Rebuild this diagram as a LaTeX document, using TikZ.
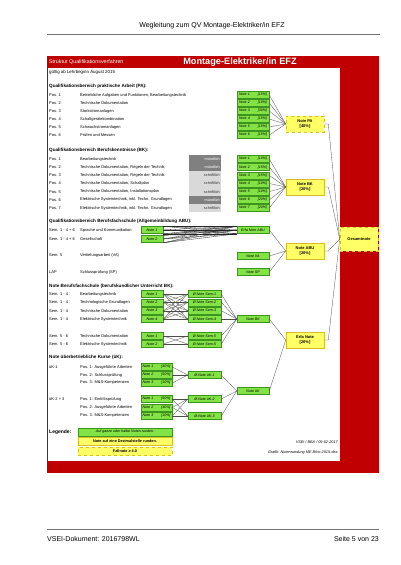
\documentclass[tikz,border=0pt]{standalone}
\usepackage{fontspec}
\setmainfont{Liberation Sans}
\usetikzlibrary{positioning}
\definecolor{vseired}{RGB}{192,0,0}
\definecolor{notegreen}{RGB}{130,226,70}
\definecolor{notegreenline}{RGB}{60,150,30}
\definecolor{sumyellow}{RGB}{255,255,102}
\definecolor{sumyellowline}{RGB}{218,190,40}
\definecolor{darkbox}{RGB}{128,128,128}
\definecolor{lightbox}{RGB}{217,217,217}

\begin{document}
\begin{tikzpicture}[x=1pt,y=-1pt,
  txt/.style={anchor=west,inner sep=0pt,font=\fontsize{4}{5}\selectfont},
  head/.style={anchor=west,inner sep=0pt,font=\fontsize{4.6}{5.5}\selectfont\bfseries},
  note/.style={rectangle,draw=notegreenline,fill=notegreen,line width=0.6pt,
               minimum width=32pt,minimum height=7pt,inner sep=0pt,
               font=\fontsize{3.6}{4}\selectfont\itshape},
  pnote/.style={note,text width=28pt},
  sum/.style={rectangle,draw=sumyellowline,fill=sumyellow,line width=0.6pt,
              minimum width=38pt,minimum height=16pt,inner sep=0pt,align=center,
              font=\fontsize{4}{5}\selectfont\bfseries},
  mode/.style={rectangle,anchor=east,minimum height=8.2pt,text width=30pt,
               inner sep=1pt,align=right,font=\fontsize{3.8}{4}\selectfont},
  link/.style={draw=black!70,line width=0.3pt}
]
\useasboundingbox (0,0) rectangle (400,565);

% page head and foot
\node[font=\fontsize{7}{8}\selectfont] (hdr) at (212,26) {Wegleitung zum QV Montage-Elektriker/in EFZ};
\draw[black!55,line width=0.6pt] (47,34) -- (380,34);
\draw[black!55,line width=0.6pt] (47,529) -- (379,529);
\node[anchor=west,inner sep=0pt,font=\fontsize{7}{8}\selectfont] (doc) at (47,539) {VSEI-Dokument: 2016798WL};
\node[anchor=east,inner sep=0pt,font=\fontsize{7}{8}\selectfont] (page) at (379,539) {Seite 5 von 23};

% red frame
\fill[vseired] (47,56) rectangle (379,473);
\fill[white] (47.6,68) rectangle (340,461);
\node[anchor=west,inner sep=0pt,text=white,font=\fontsize{5.3}{6}\selectfont] (struct) at (49,62) {Struktur Qualifikationsverfahren};
\node[inner sep=0pt,text=white,font=\fontsize{9.2}{10}\selectfont\bfseries] (title) at (240,62) {Montage-Elektriker/in EFZ};
\node[anchor=west,inner sep=0pt,font=\fontsize{4.4}{5}\selectfont] (valid) at (49,72) {gültig ab Lehrbeginn August 2015};

% praktische Arbeit
\node[head] (hpa) at (49,86) {Qualifikationsbereich praktische Arbeit (PA):};
\node[sum,dashed] (notepa) at (305,124) {Note PA\\{[40\%]}};
\foreach \i/\d/\p in {1/{Betriebliche Aufgaben und Funktionen, Bearbeitungstechnik}/15,
    2/Technische Dokumentation/10, 3/Starkstromanlagen/30,
    4/Schaltgerätekombination/15, 5/Schwachstromanlagen/15, 6/Prüfen und Messen/15}{
  \pgfmathsetmacro\y{95+8*(\i-1)}
  \node[txt] (pap\i) at (49,\y) {Pos. \i};
  \node[txt] (pad\i) at (80,\y) {\d};
  \node[pnote] (pa\i) at (253,\y) {Note \i\hfill[\p\%]};
  \draw[link] (pa\i.east) -- (notepa.west);
}

% Berufskenntnisse
\node[head] (hbk) at (49,150) {Qualifikationsbereich Berufskenntnisse (BK):};
\node[sum] (notebk) at (305,187) {Note BK\\{[20\%]}};
\foreach \i/\d/\c/\t/\w/\p in {1/Bearbeitungstechnik/darkbox/white/mündlich/10,
    2/{Technische Dokumentation, Regeln der Technik}/darkbox/white/mündlich/15,
    3/{Technische Dokumentation, Regeln der Technik}/lightbox/black!80/schriftlich/15,
    4/{Technische Dokumentation, Schaltplan}/lightbox/black!80/schriftlich/10,
    5/{Technische Dokumentation, Installationsplan}/lightbox/black!80/schriftlich/10,
    6/{Elektrische Systemtechnik, inkl. Techn. Grundlagen}/darkbox/white/mündlich/20,
    7/{Elektrische Systemtechnik, inkl. Techn. Grundlagen}/lightbox/black!80/schriftlich/20}{
  \pgfmathsetmacro\y{159+8.17*(\i-1)}
  \node[txt] (bkp\i) at (49,\y) {Pos. \i};
  \node[txt] (bkd\i) at (80,\y) {\d};
  \node[mode,fill=\c,text=\t] (bkm\i) at (221,\y) {\w};
  \node[pnote] (bk\i) at (253,\y) {Note \i\hfill[\p\%]};
  \draw[link] (bk\i.east) -- (notebk.west);
}

% Allgemeinbildung ABU
\node[head] (habu) at (49,221) {Qualifikationsbereich Berufsfachschule (Allgemeinbildung ABU):};
\node[txt] (abus1) at (49,230) {Sem. 1 - 4 + 6};
\node[txt] (abud1) at (80,230) {Sprache und Kommunikation};
\node[txt] (abus2) at (49,239) {Sem. 1 - 4 + 6};
\node[txt] (abud2) at (80,239) {Gesellschaft};
\node[txt] (vas) at (49,255) {Sem. 5};
\node[txt] (vad) at (80,255) {Vertiefungsarbeit (VA)};
\node[txt] (sps) at (49,272) {LAP};
\node[txt] (spd) at (80,272) {Schlussprüfung (SP)};
\node[note,minimum width=22pt] (abu1) at (152,230) {Note 1};
\node[note,minimum width=22pt] (abu2) at (152,239) {Note 2};
\node[note] (erfaabu) at (253,230) {Erfa Note ABU};
\node[note] (noteva) at (253,256) {Note VA};
\node[note] (notesp) at (253,272) {Note SP};
\node[sum] (noteabu) at (305,251) {Note ABU\\{[20\%]}};
\foreach \n in {abu1,abu2}
  \foreach \a in {north east,east,south east}
    \foreach \b in {north west,west,south west}
      \draw[link,draw=black!85] (\n.\a) -- (erfaabu.\b);
\foreach \n in {erfaabu,noteva,notesp}
  \draw[link] (\n.east) -- (noteabu.west);

% Gesamtnote
\node[sum,dashed,minimum height=24pt,minimum width=38pt] (gesamt) at (359,239) {Gesamtnote};
\foreach \n in {notepa,notebk,noteabu}
  \draw[link] (\n.east) -- ++(4,0) -- (gesamt.west);

% Berufskunde BK
\node[head] (hbks) at (49,286) {Note Berufsfachschule (berufskundlicher Unterricht BK):};
\node[note] (bknote) at (253,319) {Note BK};
\node[sum] (erfa) at (305,340) {Erfa Note\\{[20\%]}};
\foreach \i/\s/\d/\y in {1/{Sem. 1 - 4}/Bearbeitungstechnik/294,
    2/{Sem. 1 - 4}/Technologische Grundlagen/302.3,
    3/{Sem. 1 - 4}/Technische Dokumentation/310.7,
    4/{Sem. 1 - 4}/Elektrische Systemtechnik/319,
    5/{Sem. 5 - 6}/Technische Dokumentation/336,
    6/{Sem. 5 - 6}/Elektrische Systemtechnik/344}{
  \node[txt] (bkss\i) at (49,\y) {\s};
  \node[txt] (bksd\i) at (80,\y) {\d};
  \node[note,minimum width=33pt] (sem\i) at (204.5,\y) {Ø-Note Sem-\i};
  \draw[link] (sem\i.east) -- (bknote.west);
}
\foreach \i/\y in {1/294,2/302.3,3/310.7,4/319}
  \node[note,minimum width=22pt] (bkn\i) at (152,\y) {Note \i};
\node[note,minimum width=22pt] (bkn5) at (152,336) {Note 1};
\node[note,minimum width=22pt] (bkn6) at (152,344) {Note 2};
\foreach \i in {1,...,4}
  \foreach \j in {1,...,4}
    \draw[link] (bkn\i.east) -- (sem\j.west);
\foreach \i in {5,6}
  \foreach \j in {5,6}
    \draw[link] (bkn\i.east) -- (sem\j.west);

% ueberbetriebliche Kurse
\node[head] (huk) at (49,357) {Note überbetriebliche Kurse (üK):};
\node[txt] (uk1s) at (49,367) {üK-1};
\node[txt] (uk2s) at (49,399) {üK-2 + 3};
\foreach \i/\d/\p/\y in {1/{Pos. 1: Ausgeführte Arbeiten}/40/367,
    2/{Pos. 2: Schlussprüfung}/50/375,
    3/{Pos. 3: M\&S-Kompetenzen}/10/383}{
  \node[txt] (ukad\i) at (80,\y) {\d};
  \node[note,minimum width=31pt,text width=28pt] (uka\i) at (156.5,\y) {Note \i\hfill[\p\%]};
}
\foreach \i/\d/\p/\y in {1/{Pos. 1: Eintrittsprüfung}/50/399,
    2/{Pos. 2: Ausgeführte Arbeiten}/40/407.5,
    3/{Pos. 3: M\&S-Kompetenzen}/10/416}{
  \node[txt] (ukbd\i) at (80,\y) {\d};
  \node[note,minimum width=31pt,text width=28pt] (ukb\i) at (156.5,\y) {Note \i\hfill[\p\%]};
}
\node[note,minimum width=33pt] (uk1) at (204.5,375) {Ø-Note üK-1};
\node[note,minimum width=33pt] (uk2) at (204.5,399) {Ø-Note üK-2};
\node[note,minimum width=33pt] (uk3) at (204.5,416) {Ø-Note üK-3};
\node[note] (uknote) at (253,391) {Note üK};
\foreach \i in {1,2,3} {
  \draw[link] (uka\i.east) -- (uk1.west);
  \draw[link] (ukb\i.east) -- (uk2.west);
  \draw[link] (ukb\i.east) -- (uk3.west);
  \draw[link] (uk\i.east) -- (uknote.west);
}
\draw[link] (bknote.east) -- (erfa.west);
\draw[link] (uknote.east) -- (erfa.west);
\draw[link] (erfa.east) -- ++(4,0) -- (gesamt.west);

% Legende
\node[anchor=west,inner sep=0pt,font=\fontsize{5}{6}\selectfont\bfseries] (leg) at (49,432) {Legende:};
\node[note,minimum width=94pt,minimum height=8pt] (legnote) at (125,432) {Auf ganze oder halbe Noten runden.};
\node[sum,minimum width=94pt,minimum height=8.5pt,font=\fontsize{3.8}{4}\selectfont\bfseries] (legsum) at (125,441.5) {Note auf eine Dezimalstelle runden.};
\node[sum,dashed,minimum width=94pt,minimum height=8.5pt,font=\fontsize{3.8}{4}\selectfont\bfseries] (legfall) at (125,451.5) {Fallnote ≥ 4.0};
\node[anchor=east,inner sep=0pt,font=\fontsize{3.8}{4}\selectfont\itshape] (stamp) at (338,442) {VSEI / BBA / 09-02-2017};
\node[anchor=east,inner sep=0pt,font=\fontsize{3.8}{4}\selectfont\itshape] (src) at (338,453) {Grafik: Notenrundung ME BiVo-2015.xlsx};
\end{tikzpicture}
\end{document}
